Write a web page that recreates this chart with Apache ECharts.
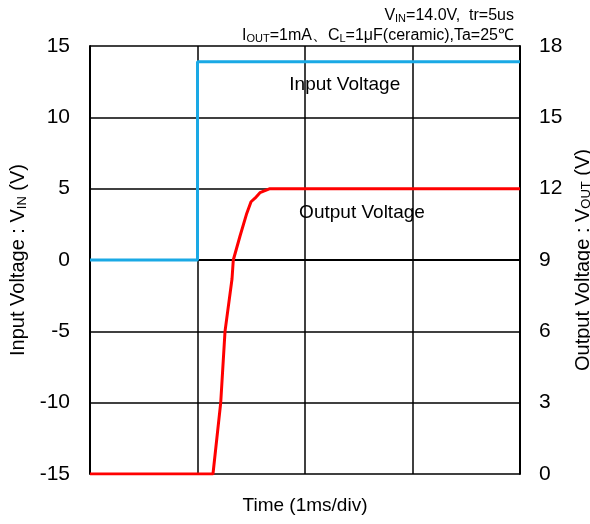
<!DOCTYPE html>
<html>
<head>
<meta charset="utf-8">
<script src="https://cdn.jsdelivr.net/npm/echarts@6/dist/echarts.min.js"></script>
<style>
  html, body { margin: 0; padding: 0; background: #fff; }
  #main { width: 590px; height: 524px; }
</style>
</head>
<body>
<div id="main"></div>
<script>
// time in ms, 1ms per division
var timeTicks = [0, 1, 2, 3, 4];
var vinTicks = [-15, -10, -5, 0, 5, 10, 15];
var voutTicks = [0, 3, 6, 9, 12, 15, 18];

// input voltage step (left axis)
var vinTime = [0, 1.0, 1.0, 4.0];
var vinValue = [0, 0, 13.9, 13.9];

// output voltage response (right axis)
var voutTime = [0, 1.144, 1.216, 1.256, 1.321, 1.333, 1.395, 1.458, 1.498, 1.535, 1.581, 1.674, 4.0];
var voutValue = [0, 0, 3, 6, 8.2, 9, 10.0, 10.96, 11.45, 11.6, 11.83, 12.0, 12.0];

var FONT = '"Liberation Sans", Arial, sans-serif';

function pairs(xs, ys) {
  return xs.map(function (x, i) { return [x, ys[i]]; });
}

var subRich = {
  t: { fontSize: 20, fontFamily: FONT, color: '#000' },
  s: { fontSize: 13, fontFamily: FONT, color: '#000', verticalAlign: 'bottom', padding: [7, 0, 0, 0] }
};

var chart = echarts.init(document.getElementById('main'));

chart.setOption({
  animation: false,
  backgroundColor: '#fff',
  textStyle: { fontFamily: FONT },
  grid: { left: 90, right: 70, top: 46, bottom: 50, outerBoundsMode: 'none' },
  xAxis: {
    type: 'value',
    min: timeTicks[0],
    max: timeTicks[timeTicks.length - 1],
    interval: 1,
    name: 'Time (1ms/div)',
    nameLocation: 'middle',
    nameGap: 22,
    nameTextStyle: { fontSize: 19, color: '#000', fontFamily: FONT },
    axisLine: { show: true, lineStyle: { color: '#000', width: 2 } },
    axisTick: { show: false },
    axisLabel: { show: false },
    splitLine: { show: true, lineStyle: { color: '#000', width: 1.5 } }
  },
  yAxis: [
    {
      type: 'value',
      position: 'left',
      min: vinTicks[0],
      max: vinTicks[vinTicks.length - 1],
      interval: 5,
      name: '{t|Input Voltage : V}{s|IN}{t| (V)}',
      nameLocation: 'middle',
      nameRotate: 90,
      nameGap: 60,
      nameTextStyle: { color: '#000', rich: subRich },
      axisLine: { show: true, lineStyle: { color: '#000', width: 2 } },
      axisTick: { show: false },
      axisLabel: { color: '#000', fontSize: 21, margin: 20, fontFamily: FONT },
      splitLine: { show: true, lineStyle: { color: '#000', width: 1.5 } }
    },
    {
      type: 'value',
      position: 'right',
      min: voutTicks[0],
      max: voutTicks[voutTicks.length - 1],
      interval: 3,
      name: '{t|Output Voltage : V}{s|OUT}{t| (V)}',
      nameLocation: 'middle',
      nameRotate: 90,
      nameGap: 46,
      nameTextStyle: { color: '#000', rich: subRich },
      axisLine: { show: true, lineStyle: { color: '#000', width: 2 } },
      axisTick: { show: false },
      axisLabel: { color: '#000', fontSize: 21, margin: 19, fontFamily: FONT },
      splitLine: { show: false }
    }
  ],
  series: [
    {
      name: 'Input Voltage',
      type: 'line',
      yAxisIndex: 0,
      data: pairs(vinTime, vinValue),
      symbol: 'none',
      lineStyle: { color: '#1aa9e5', width: 3 },
      z: 3
    },
    {
      name: 'Output Voltage',
      type: 'line',
      yAxisIndex: 1,
      data: pairs(voutTime, voutValue),
      symbol: 'none',
      lineStyle: { color: '#ff0000', width: 3 },
      z: 4
    }
  ]
});

// annotations placed in data coordinates
var inPos = chart.convertToPixel({ xAxisIndex: 0, yAxisIndex: 0 }, [2.37, 12.3]);
var outPos = chart.convertToPixel({ xAxisIndex: 0, yAxisIndex: 1 }, [2.53, 11.0]);

var headRich = {
  t: { fontSize: 16, fontFamily: FONT, fill: '#000' },
  s: { fontSize: 11, fontFamily: FONT, fill: '#000', verticalAlign: 'bottom', padding: [5, 0, 0, 0] }
};

chart.setOption({
  graphic: [
    {
      type: 'text', x: inPos[0], y: inPos[1],
      style: { text: 'Input Voltage', fill: '#000', font: '19px ' + FONT, align: 'center', verticalAlign: 'middle' }
    },
    {
      type: 'text', x: outPos[0], y: outPos[1],
      style: { text: 'Output Voltage', fill: '#000', font: '19px ' + FONT, align: 'center', verticalAlign: 'middle' }
    },
    {
      type: 'text', x: 514, y: 16,
      style: { text: '{t|V}{s|IN}{t|=14.0V,  tr=5us}', align: 'right', verticalAlign: 'middle', rich: headRich }
    },
    {
      type: 'text', x: 514, y: 36,
      style: { text: '{t|I}{s|OUT}{t|=1mA、C}{s|L}{t|=1μF(ceramic),Ta=25℃}', align: 'right', verticalAlign: 'middle', rich: headRich }
    }
  ]
});
</script>
</body>
</html>
